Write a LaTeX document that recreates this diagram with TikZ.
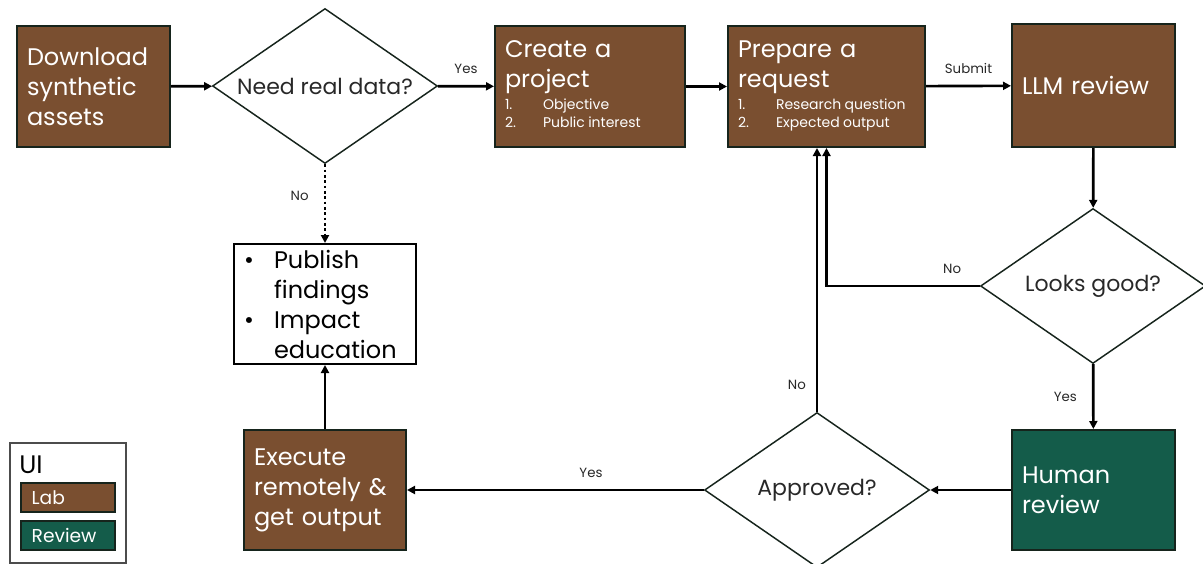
\documentclass[tikz,border=0pt]{standalone}
\usepackage{fontspec}
\setmainfont{Poppins}
\usepackage{tikz}
\usetikzlibrary{shapes.geometric, arrows.meta, positioning}

\definecolor{labbrown}{RGB}{122,79,48}
\definecolor{reviewgreen}{RGB}{20,92,74}
\definecolor{edgedark}{RGB}{22,36,28}
\definecolor{labeltext}{RGB}{40,40,40}
\newcommand{\bigtext}{\fontsize{18}{22.5}\selectfont}
\newcommand{\asktext}{\fontsize{16.5}{20}\selectfont}
\newcommand{\smalltext}{\fontsize{10.5}{13.5}\selectfont\spaceskip=0.24em plus 0.1em}
\newcommand{\tinytext}{\fontsize{10}{12}\selectfont}
\newcommand{\itemlist}[2]{\par\vspace{1.5pt}{\smalltext\begin{tabular}{@{}p{28.5pt}@{}l@{}}1.&#1\\2.&#2\end{tabular}\par}}

\tikzset{
  labbox/.style={draw=edgedark, line width=1.5pt, fill=labbrown, text=white, align=left,
    inner xsep=7.5pt, inner ysep=0pt, font=\bigtext, minimum height=90.75pt},
  reviewbox/.style={labbox, fill=reviewgreen},
  decision/.style={diamond, draw=edgedark, line width=1.1pt, fill=white,
    minimum width=168.75pt, minimum height=116.25pt, inner sep=0pt},
  flow/.style={line width=2pt, -{Triangle[length=6pt, width=6pt]}},
  edgelabel/.style={font=\tinytext, text=labeltext},
}

\begin{document}
\begin{tikzpicture}[x=0.75pt, y=-0.75pt]
\useasboundingbox (0,0) rectangle (1203,564);

% top row
\node[labbox, text width=99.75pt] (download) at (93.5,86.5) {Download\\synthetic\\assets};
\node[decision, label={[font=\asktext, text=labeltext]center:Need real data?}] (needdata) at (325,86) {};
\node[labbox, text width=127.5pt] (project) at (590,86.5)
  {Create a\\project\itemlist{Objective}{Public interest}};
\node[labbox, text width=132.75pt] (request) at (826.5,86.5)
  {Prepare a\\request\itemlist{Research question}{Expected output}};
\node[labbox, text width=107.25pt, minimum height=92.25pt] (llm) at (1093.5,85.5) {LLM review};

% middle and bottom
\node[decision, label={[font=\asktext, text=labeltext]center:Looks good?}] (looksgood) at (1093,286) {};
\node[draw=black, line width=1.5pt, fill=white, text=black, align=left, font=\bigtext,
  text width=121.5pt, inner xsep=7.5pt, inner ysep=0pt, minimum height=90pt] (publish) at (325,304)
  {\makebox[22.5pt][l]{\textbullet}Publish\\\hspace*{22.5pt}findings\\
   \makebox[22.5pt][l]{\textbullet}Impact\\\hspace*{22.5pt}education};
\node[labbox, text width=106.5pt, minimum height=90pt] (execute) at (325,490) {Execute\\remotely \&\\get output};
\node[decision, label={[font=\asktext, text=labeltext]center:Approved?}] (approved) at (817,490) {};
\node[reviewbox, text width=107.25pt, minimum height=90pt] (human) at (1093.5,490) {Human\\review};

% legend
\node[draw=black!70, line width=0.8pt, minimum width=87pt, minimum height=90pt] (legend) at (68,503) {};
\node[anchor=west, font=\fontsize{19}{22}\selectfont, text=black, inner sep=0pt] (legui) at (19,465) {UI};
\node[labbox, font=\fontsize{14}{16}\selectfont, text width=54.5pt, minimum height=21.75pt, inner xsep=8pt] (leglab) at (68,497.5) {Lab};
\node[reviewbox, font=\fontsize{14}{16}\selectfont, text width=54.5pt, minimum height=21.75pt, inner xsep=8pt] (legreview) at (68,535.5) {Review};

% connectors
\draw[flow] (download) -- (needdata);
\draw[flow] (needdata) -- node[edgelabel, above=5pt] {Yes} (project);
\draw[flow] (project) -- (request);
\draw[flow] (request) -- node[edgelabel, above=5pt] {Submit} (llm);
\draw[flow] (llm) -- (looksgood);
\draw[flow] (looksgood) -- node[edgelabel, left=8pt] {Yes} (human);
\draw[flow] (looksgood.west) -| node[edgelabel, above=5pt, pos=0.09] {No} (request.south);
\draw[flow] (human) -- (approved);
\draw[flow] (approved) -- node[edgelabel, above=5pt, pos=0.38] {Yes} (execute);
\draw[flow] (approved.north) -- node[edgelabel, left=4pt, pos=0.1] {No} (approved.north |- request.south);
\draw[flow, dash pattern=on 2pt off 2pt] (needdata) -- node[edgelabel, left=8pt, pos=0.4] {No} (publish);
\draw[flow] (execute) -- (publish);
\end{tikzpicture}
\end{document}
